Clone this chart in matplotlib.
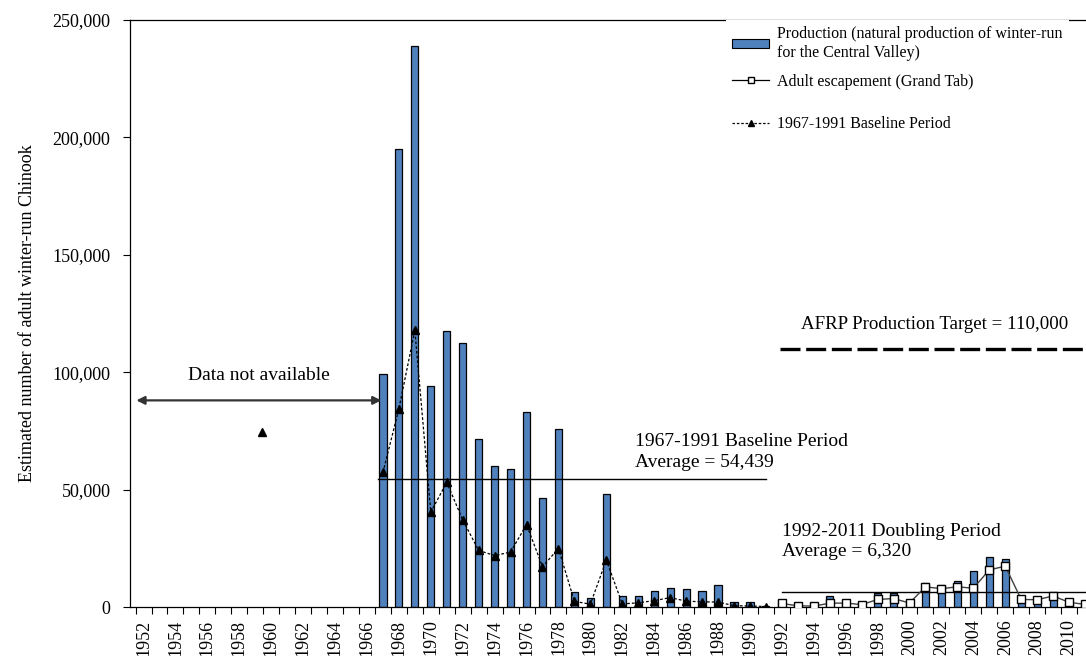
import matplotlib
matplotlib.use('Agg')
import matplotlib.pyplot as plt
from matplotlib.ticker import FuncFormatter, FixedLocator
from matplotlib.patches import Patch
from matplotlib.lines import Line2D

plt.rcParams['font.family'] = ['Liberation Serif', 'DejaVu Serif']

# ---------------- data ----------------
prod_years = list(range(1967, 2012))
production = [99200, 195000, 239000, 94100, 117700, 112600, 71400, 60000, 58800, 82900,
              46500, 75700, 6300, 3700, 48000, 4700, 4700, 6800, 8200, 7800,
              6800, 9400, 2300, 2300, 300,
              2800, 400, 300, 4800, 1500, 2000, 6000, 6000, 1800, 10100,
              9200, 11200, 15200, 21400, 20300, 2000, 2300, 5000, 1300, 900]

esc_years = list(range(1992, 2012))
escapement = [1500, 500, 400, 1600, 1700, 1000, 3200, 3600, 1700, 8600,
              7800, 8600, 8000, 15800, 17400, 3200, 3100, 4700, 2000, 1100]

base_years = list(range(1967, 1992))
baseline = [57300, 84400, 117800, 40400, 53100, 37100, 24100, 21900, 23400, 35100,
            17200, 24900, 2400, 1200, 20000, 1300, 1800, 2700, 4000, 2500,
            2200, 2100, 550, 450, 200]

baseline_avg = 54439
doubling_avg = 6320
afrp_target = 110000
stray_marker_year = [1959.45]
stray_marker_value = [74500]

tick_years = list(range(1952, 2011, 2))
y_ticks = [0, 50000, 100000, 150000, 200000, 250000]

# ---------------- figure ----------------
W, H = 1086, 656
fig = plt.figure(figsize=(W / 100, H / 100), dpi=100)
ax = fig.add_axes([130 / W, 49 / H, (W - 130) / W, 587 / H])

ax.bar(prod_years, production, width=0.45, color='#4F81BD', edgecolor='black',
       linewidth=0.9, zorder=2)
ax.plot(base_years, baseline, color='black', lw=0.9, ls=(0, (2.2, 1.6)),
        marker='^', ms=6, zorder=4)
ax.plot(stray_marker_year, stray_marker_value, ls='none', marker='^', color='black', ms=6)
ax.plot(esc_years, escapement, color='#404040', lw=1, marker='s', ms=6,
        mfc='white', mec='black', mew=1, zorder=4)

# reference lines
ax.plot([1966.7, 1991.0], [baseline_avg] * 2, color='black', lw=1, zorder=3)
ax.plot([1992.0, 2011.1], [doubling_avg] * 2, color='black', lw=1, zorder=3)
ax.plot([1991.9, 2011.1], [afrp_target] * 2, color='black', lw=2.4,
        dashes=(6.0, 1.7), zorder=3)

# annotations
ax.annotate('', xy=(1951.55, 88000), xytext=(1966.9, 88000),
            arrowprops=dict(arrowstyle='<|-|>', color='#333333', lw=1.6,
                            mutation_scale=12, shrinkA=0, shrinkB=0))
ax.text(1959.2, 98500, 'Data not available', ha='center', va='center', fontsize=14)
ax.text(1982.8, 66000, '1967-1991 Baseline Period\nAverage = 54,439', ha='left',
        va='center', fontsize=14, linespacing=1.3)
ax.text(1992.0, 27900, '1992-2011 Doubling Period\nAverage = 6,320', ha='left',
        va='center', fontsize=14, linespacing=1.3)
ax.text(2001.55, 120500, 'AFRP Production Target = 110,000', ha='center',
        va='center', fontsize=13.6)

# axes styling
ax.set_xlim(1951.15, 2011.06)
ax.set_ylim(0, 250000)
ax.set_yticks(y_ticks)
ax.yaxis.set_major_formatter(FuncFormatter(lambda v, p: f'{int(v):,}'))
ax.set_xticks(tick_years)
ax.set_xticklabels([str(y) for y in tick_years], rotation=90)
ax.xaxis.set_minor_locator(FixedLocator([y + 0.5 for y in range(1951, 2011)]))
ax.tick_params(axis='x', which='major', length=0, pad=9, labelsize=13)
ax.tick_params(axis='x', which='minor', length=5, width=0.8, direction='out')
ax.tick_params(axis='y', length=5, width=0.8, pad=9, labelsize=13)
for s in ['left', 'bottom', 'top']:
    ax.spines[s].set_color('black')
    ax.spines[s].set_linewidth(0.9)
ax.spines['right'].set_visible(False)
ax.set_ylabel('Estimated number of adult winter-run Chinook', fontsize=13, labelpad=12)

# legend
h1 = Patch(facecolor='#4F81BD', edgecolor='black', linewidth=0.8)
h2 = Line2D([], [], color='black', lw=0.9, marker='s', ms=5, mfc='white', mec='black')
h3 = Line2D([], [], color='black', lw=0.9, ls=(0, (2, 1.5)), marker='^', ms=5)
leg1 = ax.legend([h1, h2],
                 ['Production (natural production of winter-run\nfor the Central Valley)',
                  'Adult escapement (Grand Tab)'],
                 loc='upper left', bbox_to_anchor=(726 / W, 1 - 20 / H),
                 bbox_transform=fig.transFigure, fontsize=11.5, frameon=True,
                 facecolor='white', edgecolor='none', framealpha=1, fancybox=False,
                 borderaxespad=0, handlelength=2.3, handleheight=0.5,
                 handletextpad=0.5, labelspacing=0.8, borderpad=0.4)
ax.add_artist(leg1)
leg2 = ax.legend([h3], ['1967-1991 Baseline Period'],
                 loc='upper left', bbox_to_anchor=(726 / W, 1 - 110 / H),
                 bbox_transform=fig.transFigure, fontsize=11.5, frameon=False,
                 borderaxespad=0, handlelength=2.3, handletextpad=0.5, borderpad=0.4)

fig.savefig('out.png', dpi=100)
